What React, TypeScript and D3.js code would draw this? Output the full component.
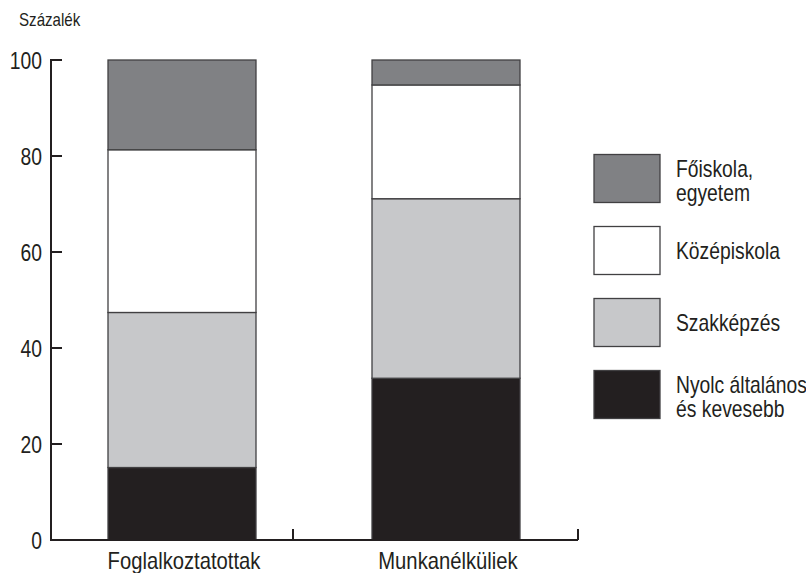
import React from "react";
import * as d3 from "d3";

const categories = ["Foglalkoztatottak", "Munkanélküliek"];
const seriesNames = ["Nyolc általános és kevesebb", "Szakképzés", "Középiskola", "Főiskola, egyetem"];
const nyolc = [15.1, 33.7];
const szak = [32.3, 37.4];
const kozep = [33.9, 23.7];
const foiskola = [18.7, 5.2];
const yTicks = [0, 20, 40, 60, 80, 100];
const legendLabels = [["Főiskola,", "egyetem"], ["Középiskola"], ["Szakképzés"], ["Nyolc általános", "és kevesebb"]];

const colors = ["#231f20", "#c7c8ca", "#ffffff", "#808184"];
const FONT = "'Liberation Sans', Arial, sans-serif";
const INK = "#231f20";
const SX = 0.84;

function CText(props: { x: number; y: number; size: number; anchor?: string; dy?: string; children: any; sx?: number }) {
  const { x, y, size, anchor, dy, children } = props;
  const sx = props.sx ?? SX;
  return (
    <g transform={`translate(${x},${y}) scale(${sx},1)`}>
      <text x={0} y={0} dy={dy} fontSize={size} textAnchor={anchor ?? "start"} fill={INK}>{children}</text>
    </g>
  );
}

export default function App() {
  const W = 806, H = 573;
  const y = d3.scaleLinear().domain([0, 100]).range([540, 60]);
  const x = d3.scaleBand<string>().domain(categories).range([108, 520]).paddingInner(0.4394).paddingOuter(0);
  const xAxisBands = d3.scaleBand<string>().domain(categories).range([8, 578]);

  const rows = categories.map((c, i) => ({ cat: c, s0: nyolc[i], s1: szak[i], s2: kozep[i], s3: foiskola[i] }));
  const stack = d3.stack<any>().keys(["s0", "s1", "s2", "s3"]);
  const layers = stack(rows);

  const legendX = 594, legendW = 66, legendH = 48, legendTop = 154.5, legendStep = 72;
  const legendOrder = [3, 2, 1, 0];

  return (
    <svg width={W} height={H} style={{ position: "absolute", left: 0, top: 0, background: "#fff" }} fontFamily={FONT}>
      <CText x={19} y={26} size={18}>Százalék</CText>

      {layers.map((layer, li) => (
        <g key={li}>
          {layer.map((d, di) => (
            <rect key={di}
              x={x(categories[di])!}
              y={y(d[1])}
              width={x.bandwidth()}
              height={y(d[0]) - y(d[1])}
              fill={colors[li]}
              stroke="#414042"
              strokeWidth={1.3}
            />
          ))}
        </g>
      ))}

      {/* y axis */}
      <line x1={51} x2={51} y1={y(100) - 1} y2={y(0) + 1} stroke={INK} strokeWidth={2} />
      {yTicks.map(t => (
        <g key={t}>
          <line x1={51} x2={62} y1={y(t)} y2={y(t)} stroke={INK} strokeWidth={2} />
          <CText x={42} y={y(t)} dy="0.37em" anchor="end" size={23}>{t}</CText>
        </g>
      ))}

      {/* x axis */}
      <line x1={50} x2={xAxisBands.range()[1]} y1={y(0)} y2={y(0)} stroke={INK} strokeWidth={2} />
      {categories.map(c => {
        const bx = xAxisBands(c)! + xAxisBands.bandwidth();
        return <line key={c} x1={bx} x2={bx} y1={y(0)} y2={y(0) - 11} stroke={INK} strokeWidth={2} />;
      })}
      {categories.map(c => (
        <CText key={c} x={x(c)! + x.bandwidth() / 2 + 2} y={569} anchor="middle" size={23} sx={0.88}>{c}</CText>
      ))}

      {/* legend */}
      {legendOrder.map((si, k) => {
        const top = legendTop + k * legendStep;
        const lines = legendLabels[k];
        const cy = top + legendH / 2;
        const lh = 23.5;
        const firstBase = lines.length === 1 ? cy + 8 : cy - 1.5;
        return (
          <g key={si}>
            <rect x={legendX} y={top} width={legendW} height={legendH} fill={colors[si]} stroke="#414042" strokeWidth={1.3} />
            {lines.map((ln, j) => (
              <CText key={j} x={676} y={firstBase + j * lh} size={23}>{ln}</CText>
            ))}
          </g>
        );
      })}
      <title>{seriesNames.join(", ")}</title>
    </svg>
  );
}
